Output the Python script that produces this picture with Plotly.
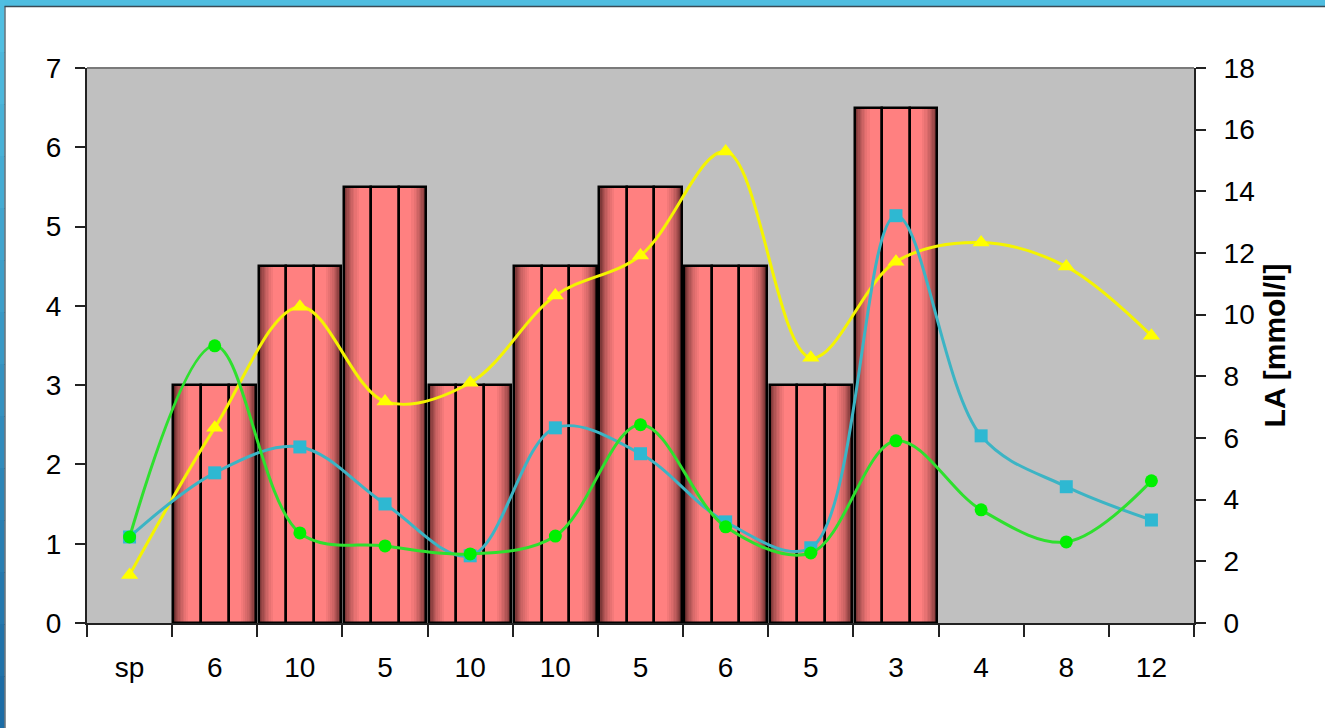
import plotly.graph_objects as go

categories = ["sp", "6", "10", "5", "10", "10", "5", "6", "5", "3", "4", "8", "12"]
bar_values = [None, 3.0, 4.5, 5.5, 3.0, 4.5, 5.5, 4.5, 3.0, 6.5, None, None, None]
yellow_la = [1.56, 6.33, 10.26, 7.18, 7.79, 10.62, 11.92, 15.29, 8.6, 11.72, 12.34, 11.56, 9.32]
cyan_la = [2.79, 4.87, 5.71, 3.86, 2.18, 6.33, 5.49, 3.28, 2.44, 13.21, 6.07, 4.42, 3.34]
green_la = [2.79, 8.99, 2.92, 2.5, 2.24, 2.82, 6.43, 3.12, 2.27, 5.91, 3.67, 2.63, 4.61]

x = list(range(len(categories)))
fig = go.Figure()

# cylinder-like shading of bars via overlaid bars of decreasing width
BW = 0.97
edge = (100, 42, 42)
center = (255, 128, 128)
layers = [1.0, 0.97, 0.94, 0.91, 0.88, 0.85, 0.82, 0.78, 0.74, 0.69, 0.64]
n = len(layers)
for i, f in enumerate(layers):
    t = i / (n - 1)
    k = t ** 0.75
    col = tuple(int(edge[j] + (center[j] - edge[j]) * k) for j in range(3))
    w = BW * f
    fig.add_trace(go.Bar(x=x, y=bar_values, width=w, offset=-w / 2,
                         marker=dict(color="rgb(%d,%d,%d)" % col, line=dict(width=0)),
                         yaxis="y", hoverinfo="skip", showlegend=False))
# three stripe outlines per bar
sw = BW / 3
for s in range(3):
    fig.add_trace(go.Bar(x=x, y=bar_values, width=sw, offset=-BW / 2 + s * sw,
                         marker=dict(color="rgba(0,0,0,0)", line=dict(color="black", width=2.5)),
                         yaxis="y", hoverinfo="skip", showlegend=False))

fig.add_trace(go.Scatter(x=x, y=yellow_la, yaxis="y2", mode="lines+markers",
                         line=dict(color="#f4f400", width=3, shape="spline", smoothing=1),
                         marker=dict(symbol="triangle-up", size=15, color="#ffff00"), showlegend=False))
fig.add_trace(go.Scatter(x=x, y=cyan_la, yaxis="y2", mode="lines+markers",
                         line=dict(color="#3cb4c4", width=3, shape="spline", smoothing=1),
                         marker=dict(symbol="square", size=13, color="#2eb8d2"), showlegend=False))
fig.add_trace(go.Scatter(x=x, y=green_la, yaxis="y2", mode="lines+markers",
                         line=dict(color="#2ee02e", width=3, shape="spline", smoothing=1),
                         marker=dict(symbol="circle", size=13, color="#00f000"), showlegend=False))

FONT = dict(family="Liberation Sans, Arial, sans-serif", size=28, color="black")

L, R, T, B = 87, 131, 68, 105
W, H = 1325, 728
pw, ph = W - L - R, H - T - B

def px(xp):
    return (xp - L) / pw

def py(yp):
    return (H - B - yp) / ph

shapes = []
# top gray border of plot area
shapes.append(dict(type="line", xref="paper", yref="paper", x0=0, x1=1, y0=1, y1=1,
                   line=dict(color="#7a7a7a", width=2), layer="above"))
# slide frame: top band
shapes.append(dict(type="rect", xref="paper", yref="paper", x0=px(-5), x1=px(W + 5),
                   y0=py(6), y1=py(-5), fillcolor="#4fbde0", line=dict(width=0)))
shapes.append(dict(type="line", xref="paper", yref="paper", x0=px(4), x1=px(W + 5),
                   y0=py(6.5), y1=py(6.5), line=dict(color="#3a4a55", width=1.5)))
# left band gradient
nseg = 14
for i in range(nseg):
    t = i / (nseg - 1)
    c0 = (80, 190, 225)
    c1 = (28, 108, 165)
    col = tuple(int(c0[j] + (c1[j] - c0[j]) * t) for j in range(3))
    shapes.append(dict(type="rect", xref="paper", yref="paper", x0=px(-5), x1=px(4.5),
                       y0=py(H * (i + 1) / nseg + 1), y1=py(H * i / nseg),
                       fillcolor="rgb(%d,%d,%d)" % col, line=dict(width=0)))
shapes.append(dict(type="line", xref="paper", yref="paper", x0=px(5), x1=px(5),
                   y0=py(H + 5), y1=py(6.5), line=dict(color="#3a4a55", width=1.2)))

fig.update_layout(
    width=W, height=H,
    margin=dict(l=L, r=R, t=T, b=B),
    paper_bgcolor="white", plot_bgcolor="#c0c0c0",
    barmode="overlay", bargap=0,
    font=FONT,
    showlegend=False,
    shapes=shapes,
    xaxis=dict(range=[-0.5, 12.5], tickmode="array", tickvals=x, ticktext=categories,
               ticks="", showgrid=False, zeroline=False, showline=True, linecolor="#222",
               linewidth=2, ticklabelstandoff=18, tickfont=FONT,
               minor=dict(tick0=-0.5, dtick=1, ticks="outside", ticklen=12, tickwidth=1.5,
                          tickcolor="#222", showgrid=False)),
    yaxis=dict(range=[0, 7], dtick=1, ticks="outside", ticklen=10, tickwidth=1.5, tickcolor="#222",
               showline=True, linecolor="#222", linewidth=2, showgrid=False, zeroline=False,
               ticklabelstandoff=8, tickfont=FONT),
    yaxis2=dict(range=[0, 18], dtick=2, overlaying="y", side="right", ticks="outside", ticklen=10,
                tickwidth=1.5, tickcolor="#222", showline=True, linecolor="#222", linewidth=2,
                showgrid=False, zeroline=False, ticklabelstandoff=12, tickfont=FONT,
                title=dict(text="<b>LA [mmol/l]</b>", font=dict(family=FONT["family"], size=30),
                           standoff=10)),
    yaxis3=dict(range=[0, 7], dtick=1, overlaying="y", side="left", ticks="inside", ticklen=10,
                tickwidth=1.5, tickcolor="#222", showticklabels=False, showline=False,
                showgrid=False, zeroline=False),
    yaxis4=dict(range=[0, 18], dtick=2, overlaying="y", side="right", ticks="inside", ticklen=10,
                tickwidth=1.5, tickcolor="#222", showticklabels=False, showline=False,
                showgrid=False, zeroline=False),
)

fig.write_html("out.html", config={"displayModeBar": False},
               post_script="document.body.style.margin='0';document.body.style.overflow='hidden';")
